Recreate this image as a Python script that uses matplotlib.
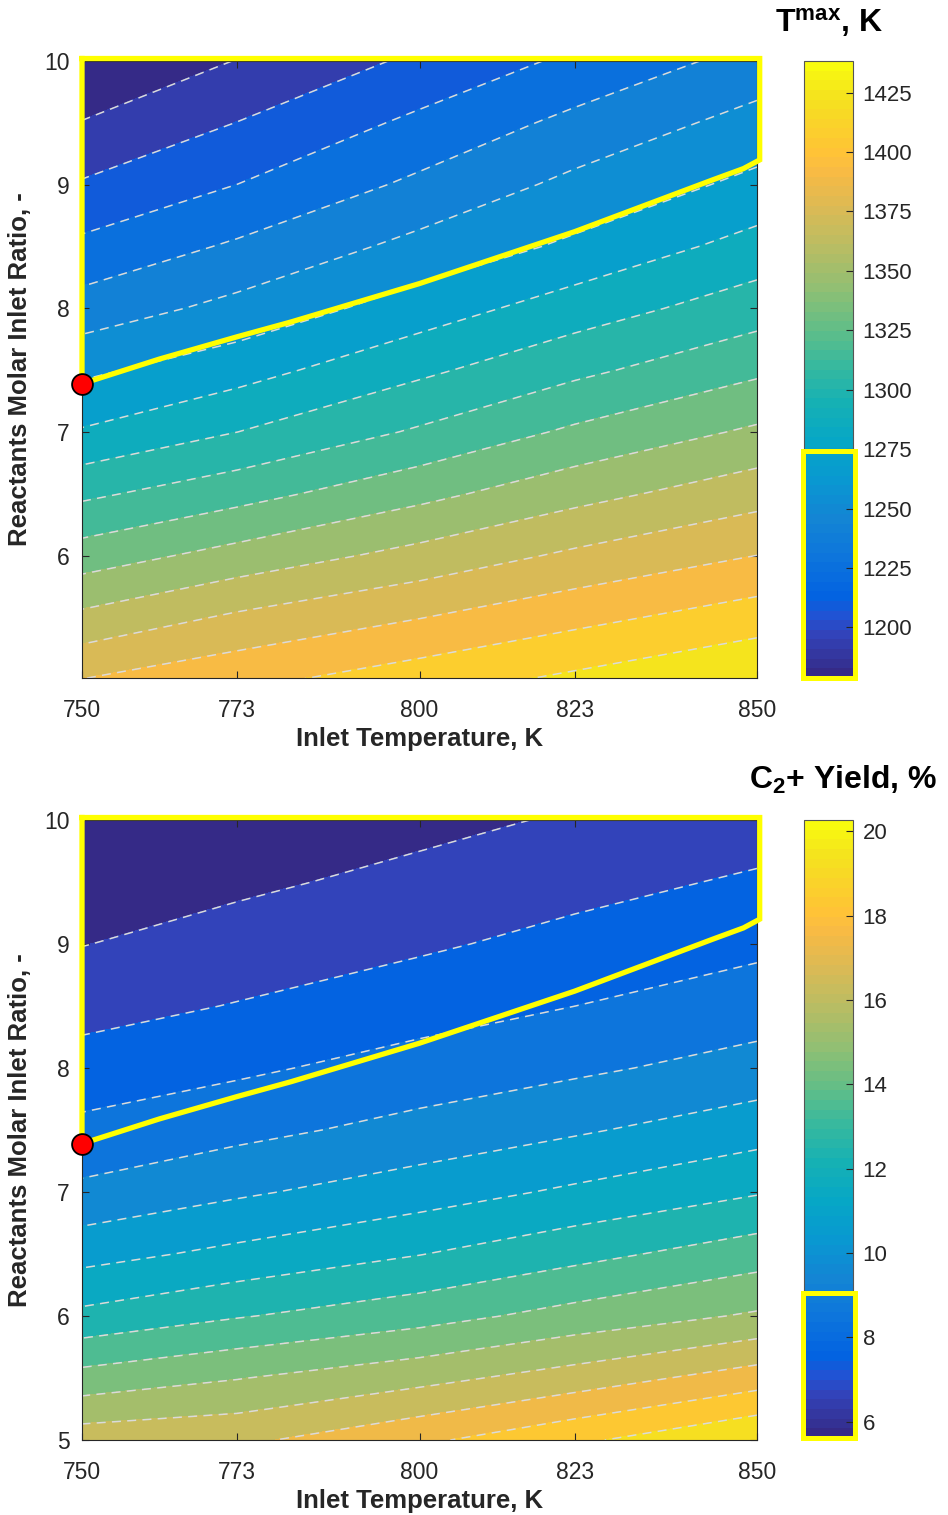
import numpy as np
import matplotlib
matplotlib.use("Agg")
import matplotlib.pyplot as plt
from matplotlib.colors import LinearSegmentedColormap, Normalize
from matplotlib.cm import ScalarMappable
from matplotlib.patches import Rectangle

plt.rcParams['font.family'] = ['Liberation Sans', 'DejaVu Sans']
plt.rcParams['mathtext.fontset'] = 'custom'
plt.rcParams['mathtext.rm'] = 'Liberation Sans'
plt.rcParams['mathtext.bf'] = 'Liberation Sans:bold'
plt.rcParams['lines.scale_dashes'] = False
plt.rcParams['lines.dashed_pattern'] = [6.5, 4.5]

# ---- values ----
inlet_T = [750, 773, 800, 823, 850]   # K
molar_ratio = [5.0, 5.5, 6.0, 6.5, 7.0, 7.5, 8.0, 8.5, 9.0, 9.5, 10.0]

# maximum temperature, K (rows follow molar_ratio, columns follow inlet_T)
t_max = [[1392.6, 1403.4, 1415.8, 1426.2, 1438.3],
         [1365.5, 1379.7, 1392.0, 1403.2, 1415.5],
         [1338.6, 1352.2, 1367.0, 1380.0, 1392.6],
         [1313.0, 1325.7, 1342.2, 1356.6, 1371.0],
         [1287.0, 1300.8, 1318.1, 1334.1, 1349.2],
         [1267.2, 1279.4, 1297.7, 1312.5, 1328.5],
         [1246.2, 1259.6, 1277.6, 1293.1, 1308.9],
         [1228.0, 1242.0, 1259.6, 1273.2, 1291.4],
         [1210.7, 1224.6, 1243.0, 1258.9, 1274.2],
         [1194.6, 1209.5, 1227.9, 1243.8, 1260.6],
         [1178.7, 1194.5, 1212.3, 1227.7, 1245.3]]

# C2+ yield, %
c2_yield = [[16.92, 17.13, 18.12, 19.10, 20.27],
            [14.76, 15.34, 16.05, 16.80, 17.83],
            [12.69, 13.36, 14.02, 14.76, 15.51],
            [11.12, 11.72, 12.42, 13.12, 13.95],
            [9.73, 10.35, 11.01, 11.64, 12.37],
            [8.78, 9.24, 9.84, 10.37, 11.06],
            [7.95, 8.37, 8.92, 9.34, 9.89],
            [7.22, 7.61, 8.12, 8.54, 9.03],
            [6.56, 6.99, 7.42, 7.86, 8.33],
            [6.09, 6.40, 6.86, 7.25, 7.70],
            [5.61, 5.92, 6.31, 6.70, 7.08]]

# feasible operating window (same outline on both maps)
bound_T = [750, 850.4, 850.4, 848, 843.5, 823, 800, 781, 773, 761.5, 750, 750]
bound_R = [10.02, 10.02, 9.2, 9.13, 9.04, 8.62, 8.2, 7.89, 7.77, 7.59, 7.39, 10.02]
best_T, best_R = 750, 7.39

tmax_window = [1178.7, 1274.0]
yield_window = [5.61, 9.05]

# MATLAB parula, sampled
parula_pts = [(0, (0.2081, 0.1663, 0.5292)), (4, (0.1959, 0.2645, 0.7279)),
              (6, (0.1253, 0.3242, 0.8303)), (8, (0.0117, 0.3875, 0.8820)),
              (12, (0.0498, 0.4586, 0.8641)), (16, (0.0793, 0.5200, 0.8312)),
              (20, (0.0343, 0.5966, 0.8199)), (24, (0.0228, 0.6535, 0.7768)),
              (28, (0.0843, 0.6928, 0.7062)), (32, (0.2178, 0.7250, 0.6193)),
              (36, (0.3953, 0.7459, 0.5244)), (40, (0.5709, 0.7485, 0.4494)),
              (44, (0.7184, 0.7411, 0.3905)), (48, (0.8507, 0.7299, 0.3360)),
              (52, (0.9739, 0.7314, 0.2666)), (54, (0.9990, 0.7653, 0.2164)),
              (56, (0.9880, 0.8066, 0.1794)), (60, (0.9589, 0.8949, 0.1132)),
              (63, (0.9763, 0.9831, 0.0538))]
parula = LinearSegmentedColormap.from_list(
    'parula', [(i / 63, c) for i, c in parula_pts], N=64)

W, H = 948, 1515
fig = plt.figure(figsize=(W / 100, H / 100), dpi=100)


def box(left, top, right, bottom):
    return [left / W, 1 - bottom / H, (right - left) / W, (bottom - top) / H]


grey = '#262626'


def draw_map(ax, cax, z, n_lines, yticks, ylo, cticks, window):
    z = np.array(z)
    norm = Normalize(z.min(), z.max())
    levels = np.linspace(z.min(), z.max(), n_lines + 2)
    fills = [parula(norm(v)) for v in levels[:-1]]
    cs = ax.contourf(inlet_T, molar_ratio, z, levels=levels, colors=fills)
    cs.set_edgecolor('face')
    cs.set_linewidth(0.4)
    ax.contour(inlet_T, molar_ratio, z, levels=levels[1:-1], colors='#dadada',
               linestyles='dashed', linewidths=1.1)
    ax.plot(bound_T, bound_R, color='yellow', lw=3.8, solid_joinstyle='miter',
            clip_on=False, zorder=5)
    ax.plot(best_T, best_R, 'o', ms=15, mfc='red', mec='black', mew=1.3,
            clip_on=False, zorder=6)

    ax.set_xlim(750, 850)
    ax.set_ylim(ylo, 10)
    ax.set_xticks(inlet_T)
    ax.set_yticks(yticks)
    ax.tick_params(direction='in', top=True, right=True, length=5, width=0.8,
                   labelsize=16.5, color=grey, labelcolor=grey)
    ax.tick_params(axis='x', pad=15)
    ax.tick_params(axis='y', pad=9)
    for s in ax.spines.values():
        s.set_color(grey)
        s.set_linewidth(0.8)
    ax.set_xlabel('Inlet Temperature, K', fontsize=18.5, fontweight='bold', color=grey)
    ax.set_ylabel('Reactants Molar Inlet Ratio, -', fontsize=18.5, fontweight='bold',
                  color=grey)
    ax.xaxis.set_label_coords(0.5, -0.079)
    ax.yaxis.set_label_coords(-0.074, 0.5)

    cb = fig.colorbar(ScalarMappable(norm=norm, cmap=parula), cax=cax, ticks=cticks)
    cb.outline.set_edgecolor('#555555')
    cb.outline.set_linewidth(0.8)
    cax.tick_params(direction='in', length=5, width=0.8, labelsize=16, pad=7,
                    color=grey, labelcolor=grey)
    cax.add_patch(Rectangle((-0.03, window[0]), 1.07, window[1] - window[0],
                            fill=False, ec='yellow', lw=3.6, clip_on=False, zorder=5))


ax1 = fig.add_axes(box(82, 61, 757, 678))
cax1 = fig.add_axes(box(804, 61, 853, 678))
draw_map(ax1, cax1, t_max, 16, [6, 7, 8, 9, 10], 5.01,
         [1200, 1225, 1250, 1275, 1300, 1325, 1350, 1375, 1400, 1425], tmax_window)

ax2 = fig.add_axes(box(82, 820, 757, 1440))
cax2 = fig.add_axes(box(804, 820, 853, 1438))
draw_map(ax2, cax2, c2_yield, 14, [5, 6, 7, 8, 9, 10], 5.0,
         [6, 8, 10, 12, 14, 16, 18, 20], yield_window)

fig.text(829 / W, 1 - 22 / H, r'$\mathbf{T^{max}}$, K', ha='center', va='center',
         fontsize=23, fontweight='bold')
fig.text(843 / W, 1 - 780 / H, r'C$_\mathbf{2}$+ Yield, %', ha='center', va='center',
         fontsize=23, fontweight='bold')

fig.savefig('out.png', dpi=100)
